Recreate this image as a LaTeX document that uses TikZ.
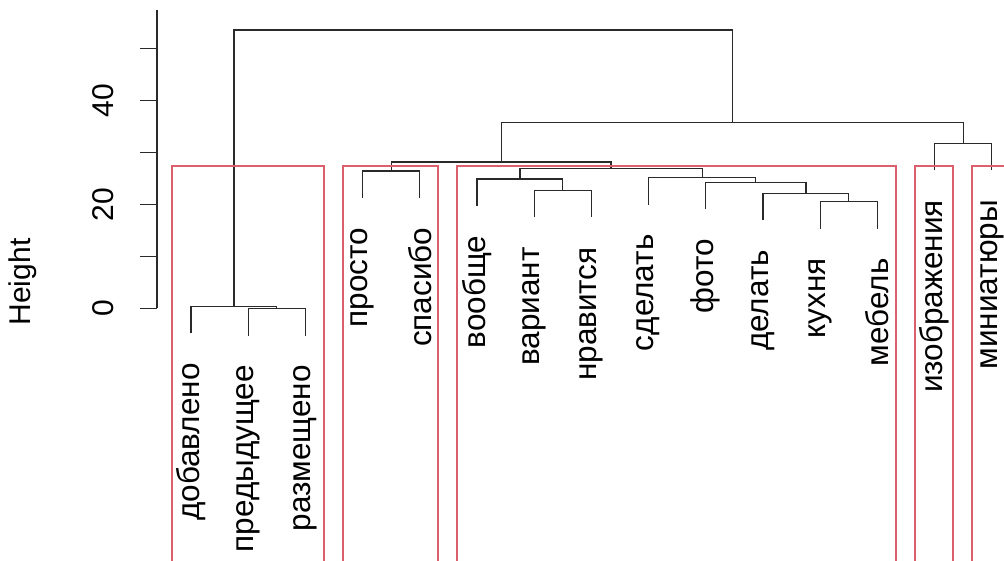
\documentclass[tikz,border=0pt]{standalone}
\usepackage{fontspec}
\setmainfont{Liberation Sans}
\definecolor{tree}{HTML}{2A2A2A}
\definecolor{boxred}{RGB}{220,95,110}
\begin{document}
\begin{tikzpicture}[x=1pt,y=-1pt,
  branch/.style={draw=tree,line width=1.2pt},
  cut/.style={draw=boxred,line width=2pt},
  leaflabel/.style={rotate=90,anchor=east,inner sep=0pt,font=\fontsize{31.5}{36}\selectfont},
  ticklabel/.style={rotate=90,inner sep=0pt,font=\fontsize{30}{36}\selectfont}]
\useasboundingbox (0,0) rectangle (1004,561);
\clip (0,0) rectangle (1004,561);

% height axis
\coordinate (ax0) at (157,308.5);
\coordinate (axtop) at (157,10);
\draw[branch] (ax0) -- (axtop);
\foreach \v in {0,...,5}{
  \draw[branch] (140,308.5-52*\v) -- (157,308.5-52*\v);
}
\node[ticklabel] (y0) at (103,308.5) {0};
\node[ticklabel] (y20) at (103,204.5) {20};
\node[ticklabel] (y40) at (103,100.5) {40};
\node[ticklabel] (ylab) at (23,282) {Height};

% leaf ends
\coordinate (l1) at (191,333.5);
\coordinate (l2) at (248.2,335.5);
\coordinate (l3) at (305.4,335.5);
\coordinate (l4) at (362.6,198);
\coordinate (l5) at (419.8,198);
\coordinate (l6) at (477,206);
\coordinate (l7) at (534.2,217.5);
\coordinate (l8) at (591.4,217.5);
\coordinate (l9) at (648.6,204.7);
\coordinate (l10) at (705.8,209.3);
\coordinate (l11) at (763,220.3);
\coordinate (l12) at (820.2,228.7);
\coordinate (l13) at (877.4,228.7);
\coordinate (l14) at (934.6,170.3);
\coordinate (l15) at (991.8,170.3);

% leaf labels
\node[leaflabel] (t1) at (191,363) {добавлено};
\node[leaflabel] (t2) at (248.2,365) {предыдущее};
\node[leaflabel] (t3) at (305.4,365) {размещено};
\node[leaflabel] (t4) at (362.6,227.5) {просто};
\node[leaflabel] (t5) at (419.8,227.5) {спасибо};
\node[leaflabel] (t6) at (477,235.5) {вообще};
\node[leaflabel] (t7) at (534.2,247) {вариант};
\node[leaflabel] (t8) at (591.4,247) {нравится};
\node[leaflabel] (t9) at (648.6,234.2) {сделать};
\node[leaflabel] (t10) at (705.8,238.8) {фото};
\node[leaflabel] (t11) at (763,249.8) {делать};
\node[leaflabel] (t12) at (820.2,258.2) {кухня};
\node[leaflabel] (t13) at (877.4,258.2) {мебель};
\node[leaflabel] (t14) at (934.6,199.8) {изображения};
\node[leaflabel] (t15) at (991.8,199.8) {миниатюры};

% merges
\coordinate (m1) at (276.8,308.5);
\coordinate (m2) at (233.9,306.5);
\coordinate (m3) at (391.2,171);
\coordinate (m4) at (562.8,190.5);
\coordinate (m5) at (519.9,179);
\coordinate (m6) at (848.8,201.7);
\coordinate (m7) at (805.9,193.3);
\coordinate (m8) at (755.85,182.3);
\coordinate (m9) at (702.2,177.7);
\coordinate (m10) at (611.05,168.5);
\coordinate (m11) at (501.1,162);
\coordinate (m12) at (963.2,143.3);
\coordinate (m13) at (732.2,122.5);
\coordinate (m14) at (483,30);

\draw[branch] (l2) |- (m1) -| (l3);
\draw[branch] (l1) |- (m2) -| (m1);
\draw[branch] (l4) |- (m3) -| (l5);
\draw[branch] (l7) |- (m4) -| (l8);
\draw[branch] (l6) |- (m5) -| (m4);
\draw[branch] (l12) |- (m6) -| (l13);
\draw[branch] (l11) |- (m7) -| (m6);
\draw[branch] (l10) |- (m8) -| (m7);
\draw[branch] (l9) |- (m9) -| (m8);
\draw[branch] (m5) |- (m10) -| (m9);
\draw[branch] (m3) |- (m11) -| (m10);
\draw[branch] (l14) |- (m12) -| (l15);
\draw[branch] (m11) |- (m13) -| (m12);
\draw[branch] (m2) |- (m14) -| (m13);

% cluster boxes (k = 5); their lower edges fall below the page
\draw[cut] (172,575) rectangle (324,166);
\draw[cut] (343,575) rectangle (438,166);
\draw[cut] (457,575) rectangle (896,166);
\draw[cut] (915,575) rectangle (953,166);
\draw[cut] (972,575) rectangle (1015,166);
\end{tikzpicture}
\end{document}
